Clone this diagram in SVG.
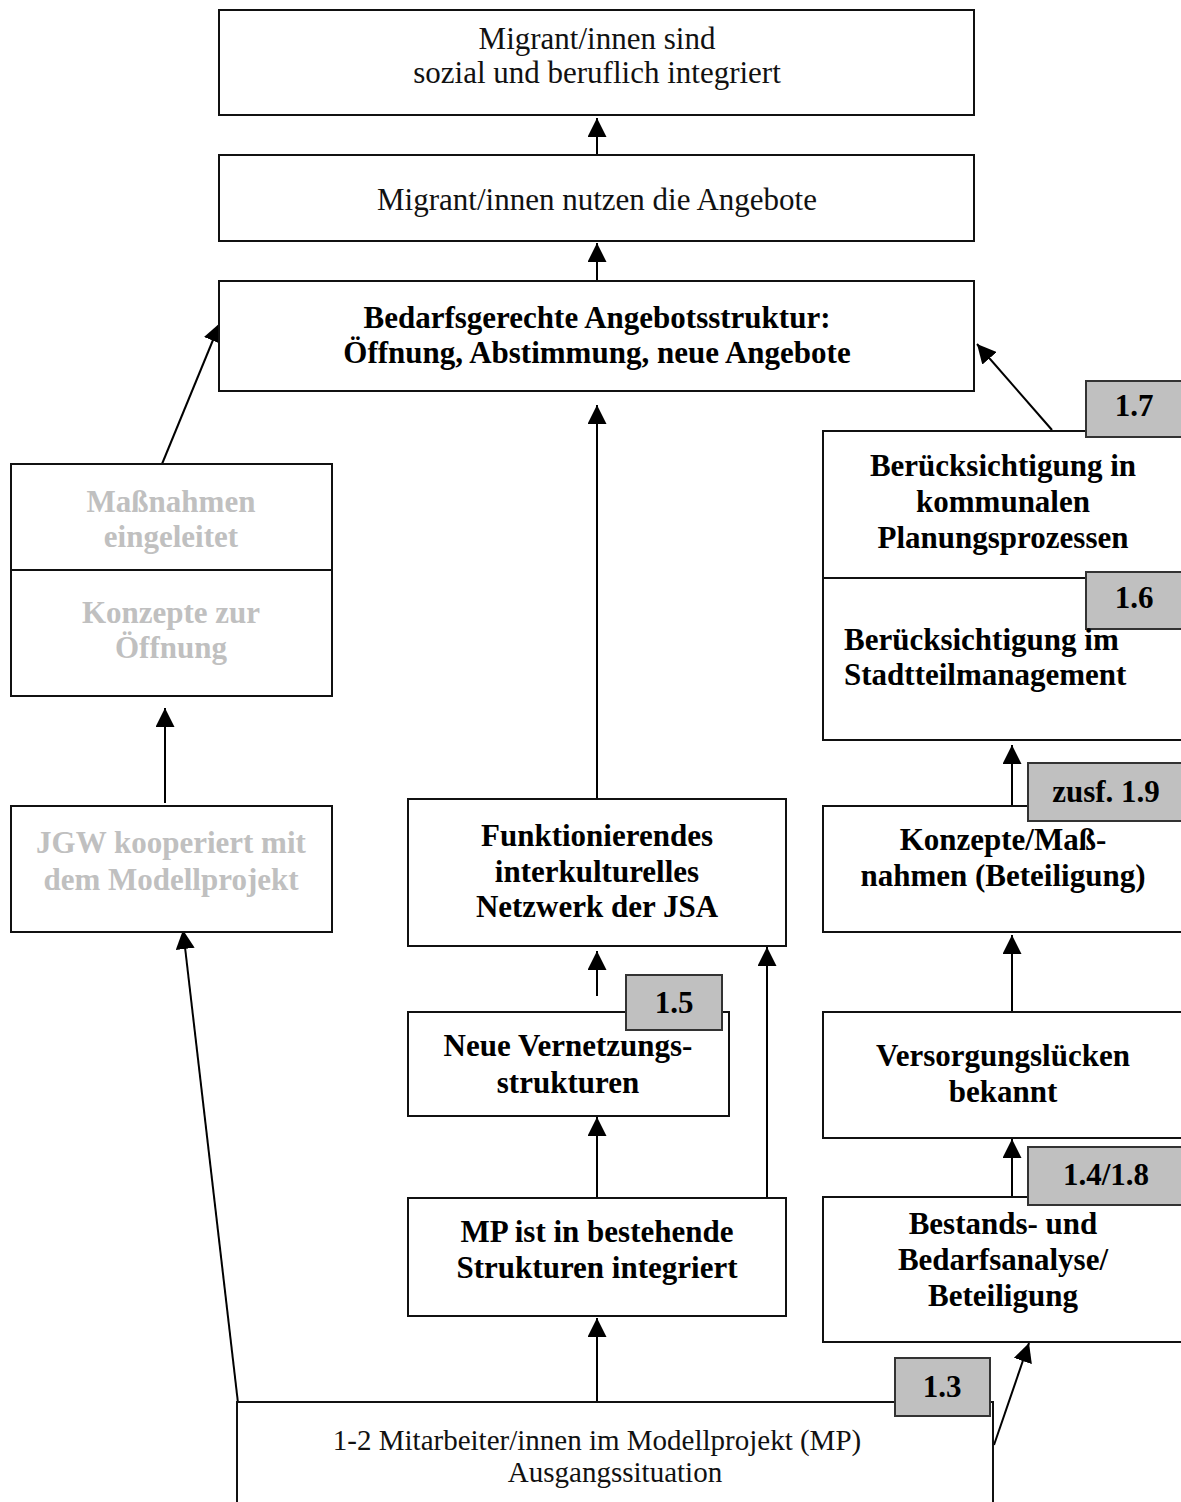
<svg xmlns="http://www.w3.org/2000/svg" width="1181" height="1502" viewBox="0 0 1181 1502">
<style>
.box{fill:#fff;stroke:#111;stroke-width:2}
.badge{fill:#c0c0c0;stroke:#333;stroke-width:2}
.reg{font-family:"Liberation Serif",serif;font-size:29px;fill:#111;text-anchor:middle}
.top{font-size:31px}
.b{font-family:"Liberation Serif",serif;font-size:31px;font-weight:bold;fill:#000;text-anchor:middle}
.g{fill:#c0c0c0}
.con{stroke:#000;stroke-width:2;fill:none;marker-end:url(#ah)}
</style>
<defs>
<marker id="ah" markerUnits="userSpaceOnUse" markerWidth="19" markerHeight="19" refX="19" refY="9.5" orient="auto">
<path d="M0,0 L19,9.5 L0,19 z" fill="#000"/>
</marker>
</defs>
<g id="connectors">
<line class="con" x1="597" y1="155" x2="597" y2="118"/>
<line class="con" x1="597" y1="281" x2="597" y2="243"/>
<line class="con" x1="597" y1="799" x2="597" y2="405"/>
<line class="con" x1="162" y1="464" x2="220" y2="323"/>
<line class="con" x1="1052" y1="430" x2="977" y2="344"/>
<line class="con" x1="165" y1="803" x2="165" y2="708"/>
<line class="con" x1="238" y1="1403" x2="183" y2="930"/>
<line class="con" x1="597" y1="996" x2="597" y2="951"/>
<line class="con" x1="597" y1="1198" x2="597" y2="1117"/>
<line class="con" x1="767" y1="1198" x2="767" y2="947"/>
<line class="con" x1="597" y1="1402" x2="597" y2="1318"/>
<line class="con" x1="1012" y1="810" x2="1012" y2="745"/>
<line class="con" x1="1012" y1="1016" x2="1012" y2="935"/>
<line class="con" x1="1012" y1="1201" x2="1012" y2="1139"/>
<line class="con" x1="994" y1="1445" x2="1029" y2="1343"/>
</g>
<g id="n1"><rect class="box" x="219" y="10" width="755" height="105"/>
<text class="reg top" x="597" y="49">Migrant/innen sind</text>
<text class="reg top" x="597" y="83">sozial und beruflich integriert</text></g>
<g id="n2"><rect class="box" x="219" y="155" width="755" height="86"/>
<text class="reg top" x="597" y="210">Migrant/innen nutzen die Angebote</text></g>
<g id="n3"><rect class="box" x="219" y="281" width="755" height="110"/>
<text class="b" x="597" y="328">Bedarfsgerechte Angebotsstruktur:</text>
<text class="b" x="597" y="363">Öffnung, Abstimmung, neue Angebote</text></g>
<g id="n4"><rect class="box" x="11" y="464" width="321" height="232"/>
<line x1="11" y1="570" x2="332" y2="570" stroke="#111" stroke-width="2"/>
<text class="b g" x="171" y="512">Maßnahmen</text>
<text class="b g" x="171" y="547">eingeleitet</text>
<text class="b g" x="171" y="623">Konzepte zur</text>
<text class="b g" x="171" y="658">Öffnung</text></g>
<g id="n5"><rect class="box" x="11" y="806" width="321" height="126"/>
<text class="b g" x="171" y="853">JGW kooperiert mit</text>
<text class="b g" x="171" y="890">dem Modellprojekt</text></g>
<g id="n6"><rect class="box" x="408" y="799" width="378" height="147"/>
<text class="b" x="597" y="846">Funktionierendes</text>
<text class="b" x="597" y="882">interkulturelles</text>
<text class="b" x="597" y="917">Netzwerk der JSA</text></g>
<g id="n7"><rect class="box" x="408" y="1012" width="321" height="104"/>
<rect class="badge" x="626" y="975" width="96" height="55"/>
<text class="b" x="674" y="1013">1.5</text>
<text class="b" x="568" y="1056">Neue Vernetzungs-</text>
<text class="b" x="568" y="1093">strukturen</text></g>
<g id="n8"><rect class="box" x="408" y="1198" width="378" height="118"/>
<text class="b" x="597" y="1242">MP ist in bestehende</text>
<text class="b" x="597" y="1278">Strukturen integriert</text></g>
<g id="n9"><rect class="box" x="823" y="431" width="362" height="309"/>
<line x1="823" y1="578" x2="1185" y2="578" stroke="#111" stroke-width="2"/>
<rect class="badge" x="1086" y="381" width="100" height="56"/>
<text class="b" x="1134" y="416">1.7</text>
<text class="b" x="1003" y="476">Berücksichtigung in</text>
<text class="b" x="1003" y="512">kommunalen</text>
<text class="b" x="1003" y="548">Planungsprozessen</text>
<rect class="badge" x="1086" y="572" width="100" height="57"/>
<text class="b" x="1134" y="608">1.6</text>
<text class="b" x="844" y="650" style="text-anchor:start">Berücksichtigung im</text>
<text class="b" x="844" y="685" style="text-anchor:start">Stadtteilmanagement</text></g>
<g id="n10"><rect class="box" x="823" y="806" width="362" height="126"/>
<rect class="badge" x="1028" y="763" width="158" height="58"/>
<text class="b" x="1106" y="802">zusf. 1.9</text>
<text class="b" x="1003" y="850">Konzepte/Maß-</text>
<text class="b" x="1003" y="886">nahmen (Beteiligung)</text></g>
<g id="n11"><rect class="box" x="823" y="1012" width="362" height="126"/>
<text class="b" x="1003" y="1066">Versorgungslücken</text>
<text class="b" x="1003" y="1102">bekannt</text></g>
<g id="n12"><rect class="box" x="823" y="1197" width="362" height="145"/>
<rect class="badge" x="1028" y="1147" width="158" height="58"/>
<text class="b" x="1106" y="1185">1.4/1.8</text>
<text class="b" x="1003" y="1234">Bestands- und</text>
<text class="b" x="1003" y="1270">Bedarfsanalyse/</text>
<text class="b" x="1003" y="1306">Beteiligung</text></g>
<g id="n13"><path d="M237,1504 V1402 H993 V1504" fill="#fff" stroke="#111" stroke-width="2"/>
<rect class="badge" x="895" y="1358" width="95" height="58"/>
<text class="b" x="942" y="1397">1.3</text>
<text class="reg" x="597" y="1450">1-2 Mitarbeiter/innen im Modellprojekt (MP)</text>
<text class="reg" x="615" y="1482">Ausgangssituation</text></g>
</svg>
